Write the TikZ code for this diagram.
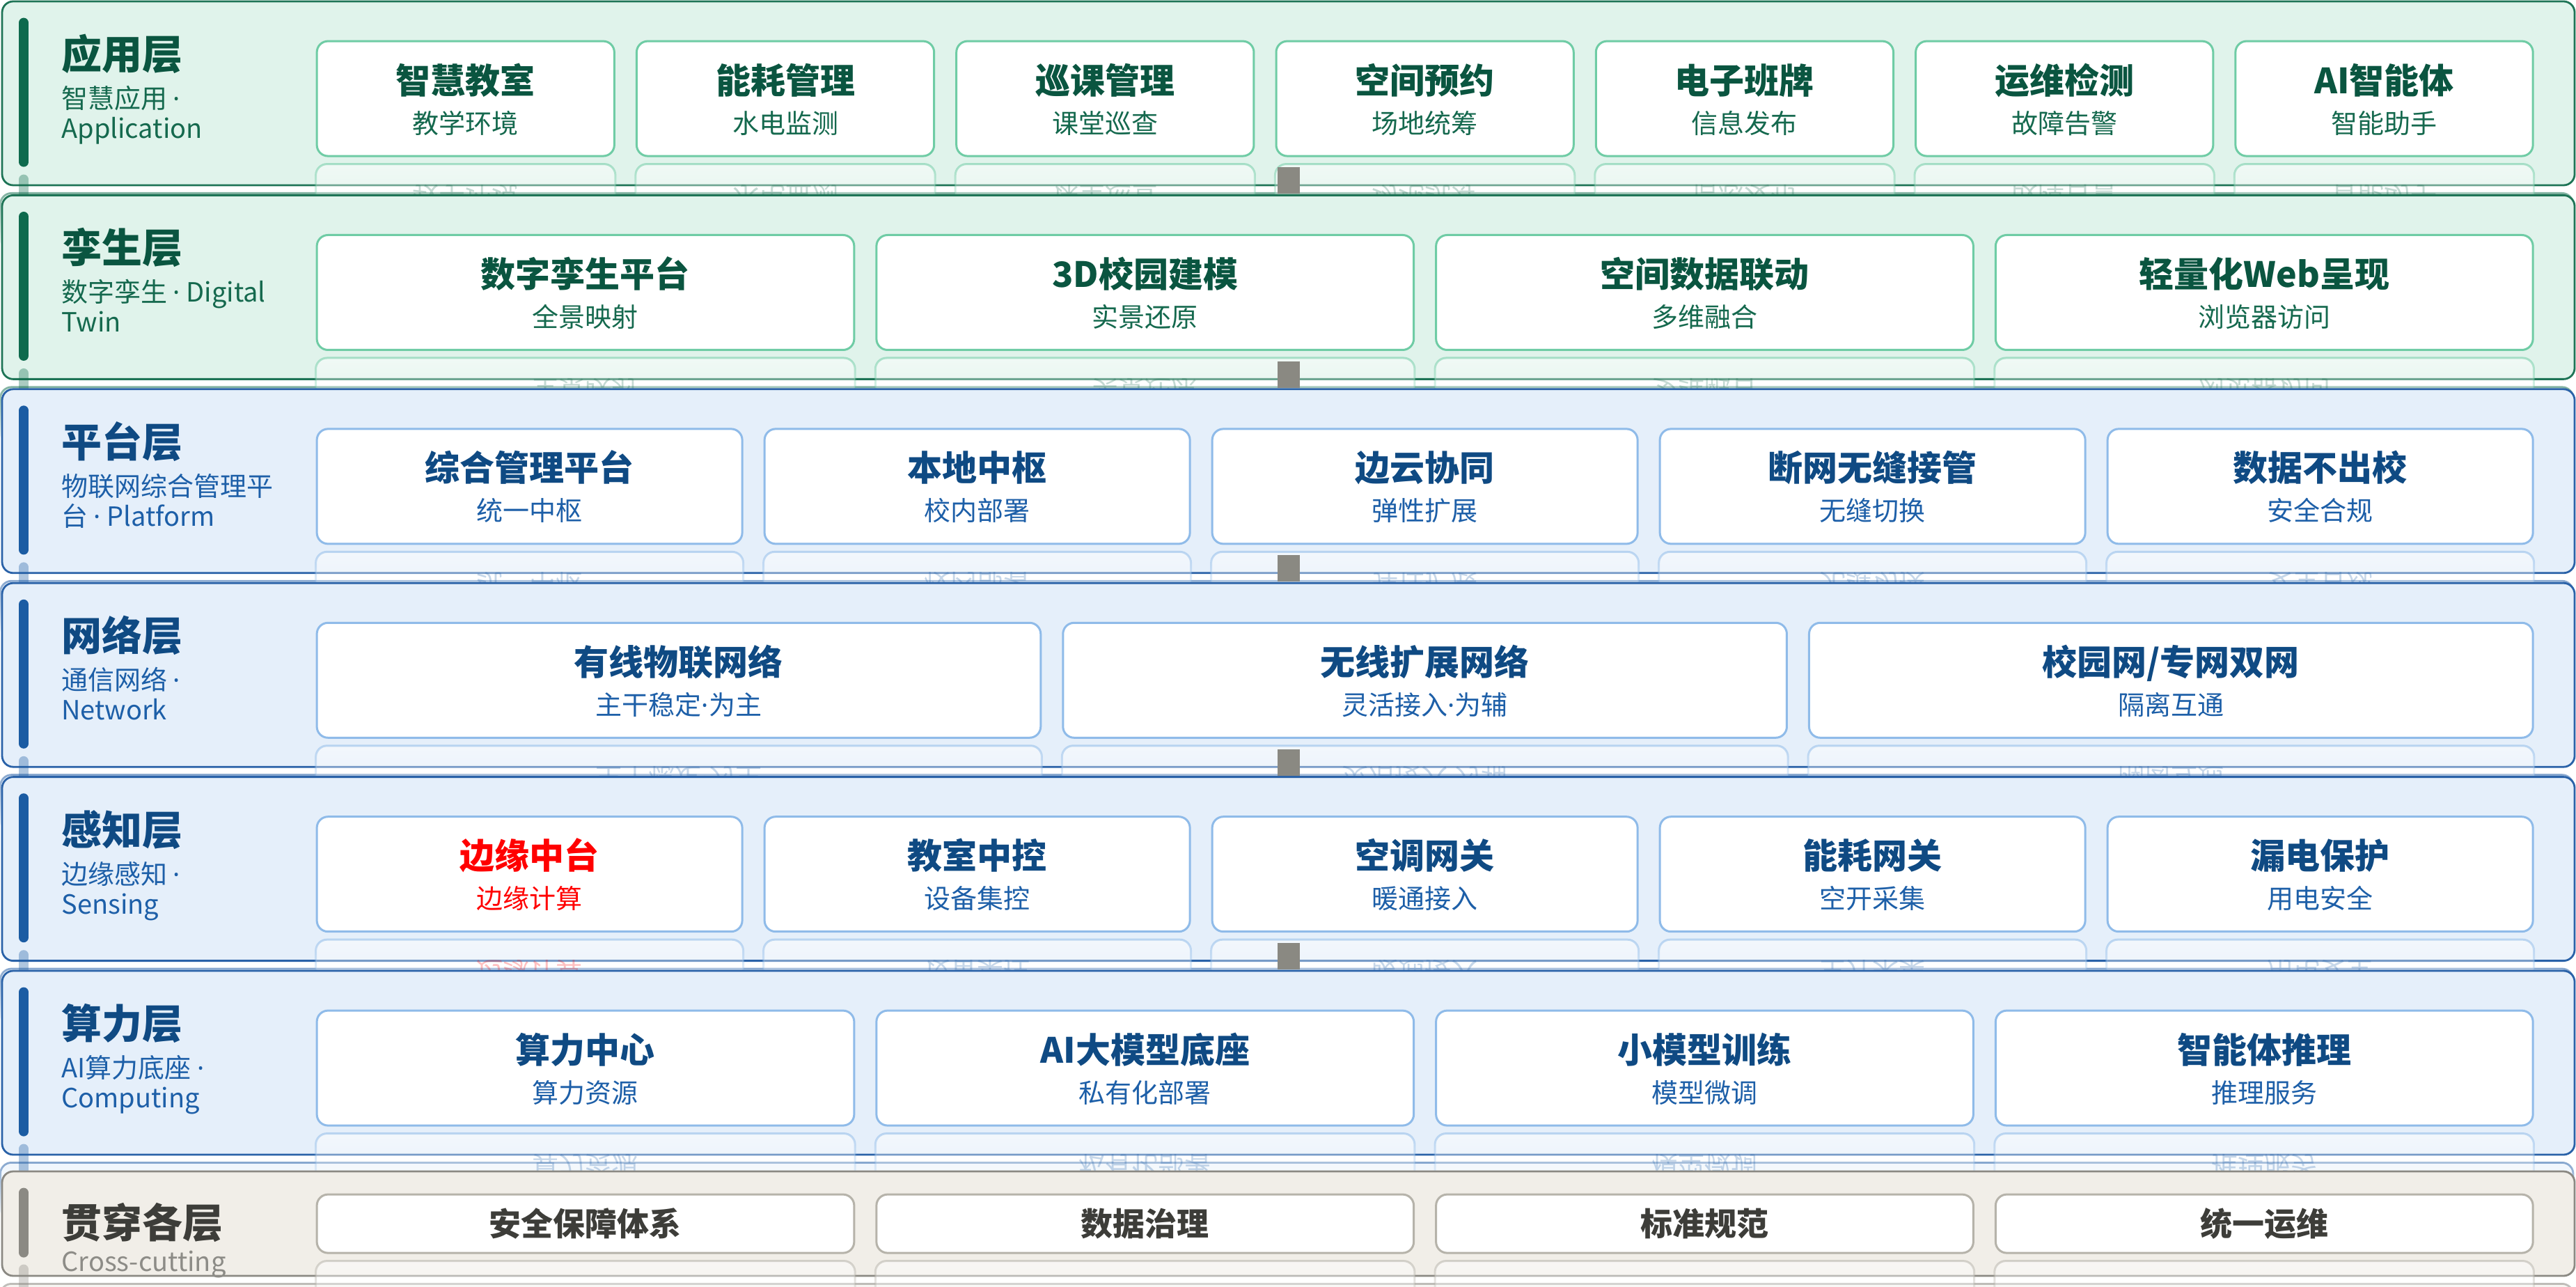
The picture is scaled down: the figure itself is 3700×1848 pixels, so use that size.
\documentclass[tikz,border=0pt]{standalone}
\usepackage{fontspec}
\setmainfont{Noto Sans CJK SC}
\newfontfamily\dotfont{Noto Sans}
\newcommand\mdot{{\dotfont ·}}
\usetikzlibrary{fadings}
\definecolor{grnFill}{HTML}{E0F3EB}
\definecolor{grnEdge}{HTML}{1E7456}
\definecolor{grnBar}{HTML}{0E6A4D}
\definecolor{grnText}{HTML}{0A5540}
\definecolor{grnSub}{HTML}{15694E}
\definecolor{grnBox}{HTML}{6FCCA5}
\definecolor{bluFill}{HTML}{E5EFFA}
\definecolor{bluEdge}{HTML}{2A62A8}
\definecolor{bluBar}{HTML}{1B5CA3}
\definecolor{bluText}{HTML}{0F4A83}
\definecolor{bluSub}{HTML}{1D5FA8}
\definecolor{bluBox}{HTML}{8FBBE9}
\definecolor{gryFill}{HTML}{F1EEE8}
\definecolor{gryEdge}{HTML}{8B8983}
\definecolor{gryBar}{HTML}{8B8983}
\definecolor{gryText}{HTML}{3D3D39}
\definecolor{grySub}{HTML}{8D8C87}
\definecolor{gryBox}{HTML}{B6B3AA}
\definecolor{hotText}{HTML}{FF0000}
\definecolor{hotSub}{HTML}{FF0000}
\definecolor{linkGray}{HTML}{8A8982}
\begin{document}
\begin{tikzpicture}
	[x=0.25pt, y=-0.25pt,
	layer/.style={draw=#1Edge, fill=#1Fill, line width=0.7pt, rounded corners=4pt,
		minimum width=923.75pt, minimum height=66pt, inner sep=0pt},
	shine/.style={draw=#1Edge, fill=#1Fill, draw opacity=.55, fill opacity=.6,
		line width=0.7pt, rounded corners=4pt, path fading=south},
	bar/.style={draw=#1Bar, line width=3.5pt, line cap=round},
	barshine/.style={draw=#1Bar, line width=3.5pt, line cap=round, opacity=.35},
	cell/.style={draw=#1Box, fill=white, line width=0.75pt, rounded corners=4pt,
		minimum height=41.25pt, inner sep=0pt, anchor=north west},
	cellshine/.style={draw=#1Box, fill=white, draw opacity=.55, fill opacity=.55,
		line width=0.75pt, rounded corners=4pt, path fading=south},
	tier/.style={text=#1Text, inner sep=0pt, anchor=base west,
		font=\fontsize{14.5}{17}\selectfont\bfseries},
	tiersub/.style={text=#1Sub, inner sep=0pt, anchor=base west,
		font=\fontsize{9.5}{11}\selectfont},
	head/.style={text=#1Text, inner sep=0pt, anchor=base,
		font=\fontsize{12.5}{15}\selectfont\bfseries},
	note/.style={text=#1Sub, inner sep=0pt, anchor=base,
		font=\fontsize{9.5}{11}\selectfont},
	echo/.style={text=#1Sub, inner sep=0pt, opacity=.25,
		font=\fontsize{9.5}{11}\selectfont},
	link/.style={draw=linkGray, line width=8pt}]
	\useasboundingbox (0,0) rectangle (3700,1848);
	
	\node[layer=grn] (L1) at (1850.5,134) {};
	\draw[shine=grn] ([shift={(0,10)}]L1.south west) rectangle ([shift={(0,90)}]L1.south east);
	\draw[bar=grn] ([shift={(32.5,32)}]L1.north west) -- ([shift={(32.5,232)}]L1.north west);
	\draw[barshine=grn] ([shift={(32.5,257)}]L1.north west) -- ([shift={(32.5,330)}]L1.north west);
	\node[tier=grn] (L1t) at ([shift={(86,99)}]L1.north west) {应用层};
	\node[tiersub=grn] (L1a) at ([shift={(86,155)}]L1.north west) {智慧应用 \mdot};
	\node[tiersub=grn] (L1b) at ([shift={(86,198)}]L1.north west) {Application};
	\foreach \t/\s [count=\i] in {智慧教室/教学环境, 能耗管理/水电监测, 巡课管理/课堂巡查,
		空间预约/场地统筹, 电子班牌/信息发布, 运维检测/故障告警, AI智能体/智能助手} {
		\node[cell=grn, minimum width=106.82pt] (a\i) at ([shift={({452+(\i-1)*459.29},57)}]L1.north west) {};
		\draw[cellshine=grn] ([shift={(0,10)}]a\i.south west) rectangle ([shift={(0,100)}]a\i.south east);
		\node[echo=grn] (a\i e) at ([shift={(0,57)}]a\i.south) {\scalebox{1}[-1]{\s}};
		\node[head=grn] (a\i t) at ([shift={(0,-7.5)}]a\i.center) {\t};
		\node[note=grn] (a\i s) at ([shift={(0,49.5)}]a\i.center) {\s};
	}
	
	\node[layer=grn] (L2) at (1850.5,412.4) {};
	\draw[shine=grn] ([shift={(0,10)}]L2.south west) rectangle ([shift={(0,90)}]L2.south east);
	\draw[bar=grn] ([shift={(32.5,32)}]L2.north west) -- ([shift={(32.5,232)}]L2.north west);
	\draw[barshine=grn] ([shift={(32.5,257)}]L2.north west) -- ([shift={(32.5,330)}]L2.north west);
	\node[tier=grn] (L2t) at ([shift={(86,99)}]L2.north west) {孪生层};
	\node[tiersub=grn] (L2a) at ([shift={(86,155)}]L2.north west) {数字孪生 \mdot{} Digital};
	\node[tiersub=grn] (L2b) at ([shift={(86,198)}]L2.north west) {Twin};
	\foreach \t/\s [count=\i] in {数字孪生平台/全景映射, 3D校园建模/实景还原,
		空间数据联动/多维融合, 轻量化Web呈现/浏览器访问} {
		\node[cell=grn, minimum width=192.94pt] (b\i) at ([shift={({452+(\i-1)*803.75},57)}]L2.north west) {};
		\draw[cellshine=grn] ([shift={(0,10)}]b\i.south west) rectangle ([shift={(0,100)}]b\i.south east);
		\node[echo=grn] (b\i e) at ([shift={(0,57)}]b\i.south) {\scalebox{1}[-1]{\s}};
		\node[head=grn] (b\i t) at ([shift={(0,-7.5)}]b\i.center) {\t};
		\node[note=grn] (b\i s) at ([shift={(0,49.5)}]b\i.center) {\s};
	}
	
	\node[layer=blu] (L3) at (1850.5,690.8) {};
	\draw[shine=blu] ([shift={(0,10)}]L3.south west) rectangle ([shift={(0,90)}]L3.south east);
	\draw[bar=blu] ([shift={(32.5,32)}]L3.north west) -- ([shift={(32.5,232)}]L3.north west);
	\draw[barshine=blu] ([shift={(32.5,257)}]L3.north west) -- ([shift={(32.5,330)}]L3.north west);
	\node[tier=blu] (L3t) at ([shift={(86,99)}]L3.north west) {平台层};
	\node[tiersub=blu] (L3a) at ([shift={(86,155)}]L3.north west) {物联网综合管理平};
	\node[tiersub=blu] (L3b) at ([shift={(86,198)}]L3.north west) {台 \mdot{} Platform};
	\foreach \t/\s [count=\i] in {综合管理平台/统一中枢, 本地中枢/校内部署, 边云协同/弹性扩展,
		断网无缝接管/无缝切换, 数据不出校/安全合规} {
		\node[cell=blu, minimum width=152.75pt] (c\i) at ([shift={({452+(\i-1)*643},57)}]L3.north west) {};
		\draw[cellshine=blu] ([shift={(0,10)}]c\i.south west) rectangle ([shift={(0,100)}]c\i.south east);
		\node[echo=blu] (c\i e) at ([shift={(0,57)}]c\i.south) {\scalebox{1}[-1]{\s}};
		\node[head=blu] (c\i t) at ([shift={(0,-7.5)}]c\i.center) {\t};
		\node[note=blu] (c\i s) at ([shift={(0,49.5)}]c\i.center) {\s};
	}
	
	\node[layer=blu] (L4) at (1850.5,969.2) {};
	\draw[shine=blu] ([shift={(0,10)}]L4.south west) rectangle ([shift={(0,90)}]L4.south east);
	\draw[bar=blu] ([shift={(32.5,32)}]L4.north west) -- ([shift={(32.5,232)}]L4.north west);
	\draw[barshine=blu] ([shift={(32.5,257)}]L4.north west) -- ([shift={(32.5,330)}]L4.north west);
	\node[tier=blu] (L4t) at ([shift={(86,99)}]L4.north west) {网络层};
	\node[tiersub=blu] (L4a) at ([shift={(86,155)}]L4.north west) {通信网络 \mdot};
	\node[tiersub=blu] (L4b) at ([shift={(86,198)}]L4.north west) {Network};
	\foreach \t/\s [count=\i] in {有线物联网络/主干稳定\mdot{}为主, 无线扩展网络/灵活接入\mdot{}为辅,
		{校园网/专网双网}/隔离互通} {
		\node[cell=blu, minimum width=259.92pt] (d\i) at ([shift={({452+(\i-1)*1071.67},57)}]L4.north west) {};
		\draw[cellshine=blu] ([shift={(0,10)}]d\i.south west) rectangle ([shift={(0,100)}]d\i.south east);
		\node[echo=blu] (d\i e) at ([shift={(0,57)}]d\i.south) {\scalebox{1}[-1]{\s}};
		\node[head=blu] (d\i t) at ([shift={(0,-7.5)}]d\i.center) {\t};
		\node[note=blu] (d\i s) at ([shift={(0,49.5)}]d\i.center) {\s};
	}
	
	\node[layer=blu] (L5) at (1850.5,1247.6) {};
	\draw[shine=blu] ([shift={(0,10)}]L5.south west) rectangle ([shift={(0,90)}]L5.south east);
	\draw[bar=blu] ([shift={(32.5,32)}]L5.north west) -- ([shift={(32.5,232)}]L5.north west);
	\draw[barshine=blu] ([shift={(32.5,257)}]L5.north west) -- ([shift={(32.5,330)}]L5.north west);
	\node[tier=blu] (L5t) at ([shift={(86,99)}]L5.north west) {感知层};
	\node[tiersub=blu] (L5a) at ([shift={(86,155)}]L5.north west) {边缘感知 \mdot};
	\node[tiersub=blu] (L5b) at ([shift={(86,198)}]L5.north west) {Sensing};
	\foreach \t/\s/\c [count=\i] in {边缘中台/边缘计算/hot, 教室中控/设备集控/blu, 空调网关/暖通接入/blu,
		能耗网关/空开采集/blu, 漏电保护/用电安全/blu} {
		\node[cell=blu, minimum width=152.75pt] (e\i) at ([shift={({452+(\i-1)*643},57)}]L5.north west) {};
		\draw[cellshine=blu] ([shift={(0,10)}]e\i.south west) rectangle ([shift={(0,100)}]e\i.south east);
		\node[echo=\c] (e\i e) at ([shift={(0,57)}]e\i.south) {\scalebox{1}[-1]{\s}};
		\node[head=\c] (e\i t) at ([shift={(0,-7.5)}]e\i.center) {\t};
		\node[note=\c] (e\i s) at ([shift={(0,49.5)}]e\i.center) {\s};
	}
	
	\node[layer=blu] (L6) at (1850.5,1526) {};
	\draw[shine=blu] ([shift={(0,10)}]L6.south west) rectangle ([shift={(0,90)}]L6.south east);
	\draw[bar=blu] ([shift={(32.5,32)}]L6.north west) -- ([shift={(32.5,232)}]L6.north west);
	\draw[barshine=blu] ([shift={(32.5,257)}]L6.north west) -- ([shift={(32.5,330)}]L6.north west);
	\node[tier=blu] (L6t) at ([shift={(86,99)}]L6.north west) {算力层};
	\node[tiersub=blu] (L6a) at ([shift={(86,155)}]L6.north west) {AI算力底座 \mdot};
	\node[tiersub=blu] (L6b) at ([shift={(86,198)}]L6.north west) {Computing};
	\foreach \t/\s [count=\i] in {算力中心/算力资源, AI大模型底座/私有化部署,
		小模型训练/模型微调, 智能体推理/推理服务} {
		\node[cell=blu, minimum width=192.94pt] (f\i) at ([shift={({452+(\i-1)*803.75},57)}]L6.north west) {};
		\draw[cellshine=blu] ([shift={(0,10)}]f\i.south west) rectangle ([shift={(0,100)}]f\i.south east);
		\node[echo=blu] (f\i e) at ([shift={(0,57)}]f\i.south) {\scalebox{1}[-1]{\s}};
		\node[head=blu] (f\i t) at ([shift={(0,-7.5)}]f\i.center) {\t};
		\node[note=blu] (f\i s) at ([shift={(0,49.5)}]f\i.center) {\s};
	}
	
	\node[layer=gry, minimum height=37.5pt] (L7) at (1850.5,1757) {};
	\draw[shine=gry] ([shift={(0,10)}]L7.south west) rectangle ([shift={(0,90)}]L7.south east);
	\draw[bar=gry] ([shift={(32.5,32)}]L7.north west) -- ([shift={(32.5,118)}]L7.north west);
	\draw[barshine=gry] ([shift={(32.5,142)}]L7.north west) -- ([shift={(32.5,200)}]L7.north west);
	\node[tier=gry] (L7t) at ([shift={(86,97)}]L7.north west) {贯穿各层};
	\node[tiersub=gry] (L7a) at ([shift={(86,145)}]L7.north west) {Cross-cutting};
	\foreach \t [count=\i] in {安全保障体系, 数据治理, 标准规范, 统一运维} {
		\node[cell=gry, minimum width=192.94pt, minimum height=21pt, text=gryText,
			font=\fontsize{11.5}{14}\selectfont\bfseries] (g\i) at ([shift={({452+(\i-1)*803.75},33)}]L7.north west) {\t};
		\draw[cellshine=gry] ([shift={(0,10)}]g\i.south west) rectangle ([shift={(0,100)}]g\i.south east);
	}
	
	\foreach \a/\b in {L1/L2, L2/L3, L3/L4, L4/L5, L5/L6}
		\draw[link] ([shift={(0,-27)}]\a.south) -- ([shift={(0,-0.5)}]\b.north);
\end{tikzpicture}
\end{document}
